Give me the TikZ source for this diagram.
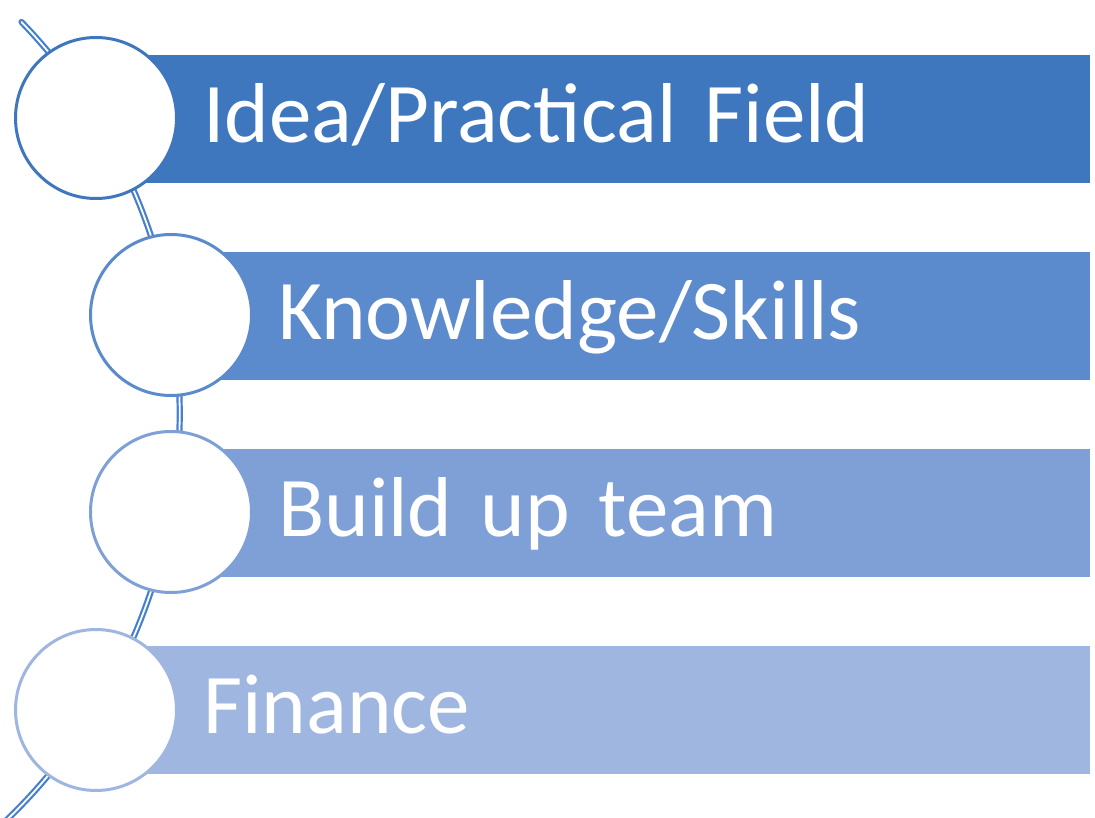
\documentclass[tikz,border=0pt]{standalone}
\usepackage{fontspec}
\setmainfont{Carlito}
\definecolor{blueA}{RGB}{63,119,191}
\definecolor{blueB}{RGB}{92,139,205}
\definecolor{blueC}{RGB}{126,160,215}
\definecolor{blueD}{RGB}{159,182,224}
\definecolor{arcblue}{RGB}{70,128,204}
\tikzset{
  bar/.style={fill=#1, draw=none, anchor=west, minimum height=128pt,
    inner xsep=107pt, inner ysep=0pt, text height=55pt, text depth=8pt,
    align=left, text=white, font=\fontsize{85}{100}\selectfont},
  dot/.style={circle, draw=#1, line width=3pt, fill=white, minimum size=161pt}
}
\begin{document}
\begin{tikzpicture}[x=1pt,y=-1pt]
      \useasboundingbox (0,0) rectangle (1095,818);
      \coordinate (top) at (21.5,22);
      \draw[arcblue, line width=2.2pt, double=white, double distance=1.8pt, line cap=round]
        (top) arc[start angle=-44, end angle=47, radius=563.7];
      \node[bar=blueA, text width=780pt] (b1) at (96,119) {Idea/Practical Field};
      \node[bar=blueB, text width=705pt] (b2) at (171,316) {Knowledge/Skills};
      \node[bar=blueC, text width=705pt] (b3) at (171,513) {Build up team};
      \node[bar=blueD, text width=780pt] (b4) at (96,710) {Finance};
      \node[dot=blueA] (c1) at (96,118) {};
      \node[dot=blueB] (c2) at (171,315) {};
      \node[dot=blueC] (c3) at (171,512) {};
      \node[dot=blueD] (c4) at (96,710) {};
    \end{tikzpicture}
\end{document}
